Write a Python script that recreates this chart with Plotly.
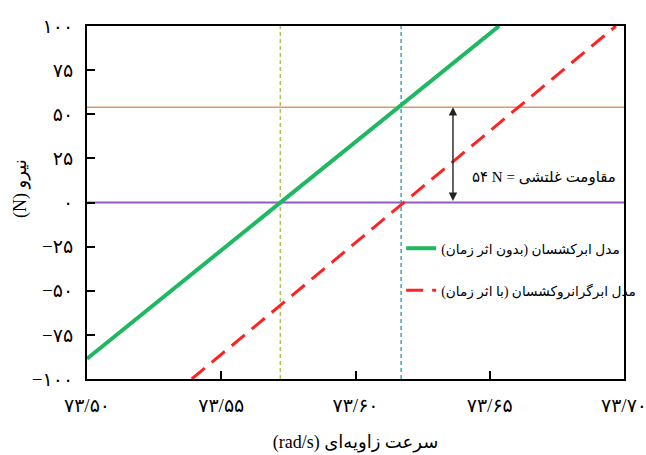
import plotly.graph_objects as go

# ---- data ----
x_ticks = [73.50, 73.55, 73.60, 73.65, 73.70]
x_tick_labels = ["۷۳/۵۰", "۷۳/۵۵", "۷۳/۶۰", "۷۳/۶۵", "۷۳/۷۰"]
y_ticks = [-100, -75, -50, -25, 0, 25, 50, 75, 100]
y_tick_labels = ["−۱۰۰", "−۷۵", "−۵۰", "−۲۵", "۰", "۲۵", "۵۰", "۷۵", "۱۰۰"]

hyper_x = [73.50, 73.6535]
hyper_y = [-88.5, 100]
visco_x = [73.539, 73.697]
visco_y = [-100, 100]

resistance_level = 54
zero_level = 0
omega_hyper = 73.572
omega_visco = 73.617
arrow_x = 73.6363

name_hyper = "مدل ابرکشسان (بدون اثر زمان)"
name_visco = "مدل ابرگرانروکشسان (با اثر زمان)"
label_resist = "۵۴ N = مقاومت غلتشی"
x_title = "(rad/s) سرعت زاویه‌ای"
y_title = "(N) نیرو"

FONT = "Liberation Serif, DejaVu Sans, Noto Sans"

fig = go.Figure()

# horizontal reference lines
fig.add_trace(go.Scatter(x=[x_ticks[0], x_ticks[-1]], y=[resistance_level] * 2, mode="lines",
                         line=dict(color="#d99a66", width=1.6), showlegend=False, hoverinfo="skip"))
fig.add_trace(go.Scatter(x=[x_ticks[0], x_ticks[-1]], y=[zero_level] * 2, mode="lines",
                         line=dict(color="#9159c9", width=1.8), showlegend=False, hoverinfo="skip"))
# vertical reference lines
fig.add_trace(go.Scatter(x=[omega_hyper] * 2, y=[y_ticks[0], y_ticks[-1]], mode="lines",
                         line=dict(color="#b3c05a", width=1.5, dash="4px,3px"), showlegend=False, hoverinfo="skip"))
fig.add_trace(go.Scatter(x=[omega_visco] * 2, y=[y_ticks[0], y_ticks[-1]], mode="lines",
                         line=dict(color="#3fa6b8", width=1.5, dash="4px,3px"), showlegend=False, hoverinfo="skip"))

# model lines
fig.add_trace(go.Scatter(x=hyper_x, y=hyper_y, mode="lines", name=name_hyper, legendgroup="a",
                         line=dict(color="#1fb862", width=4)))
fig.add_trace(go.Scatter(x=visco_x, y=visco_y, mode="lines", name=name_visco, legendgroup="b",
                         line=dict(color="#ff2222", width=3, dash="17px,9px")))

# double arrow
fig.add_annotation(x=arrow_x, y=resistance_level, ax=arrow_x, ay=zero_level, axref="x", ayref="y",
                   xref="x", yref="y", text="", showarrow=True, arrowside="end+start",
                   arrowhead=2, arrowsize=1.2, arrowwidth=1.4, arrowcolor="#222222")
fig.add_annotation(x=73.6702, y=14.3, xref="x", yref="y", text=label_resist, showarrow=False,
                   font=dict(family=FONT, size=15, color="black"), xanchor="center", yanchor="middle")
# y-axis title
fig.add_annotation(x=-0.125, y=0.541, xref="paper", yref="paper", text=y_title, showarrow=False,
                   textangle=-90, font=dict(family=FONT, size=18, color="black"),
                   xanchor="center", yanchor="middle")

fig.update_xaxes(range=[x_ticks[0], x_ticks[-1]], tickvals=x_ticks, ticktext=x_tick_labels,
                 ticks="inside", ticklen=8, tickwidth=1.5, tickcolor="black",
                 showline=True, linewidth=2, linecolor="black", mirror=True,
                 showgrid=False, zeroline=False, automargin=False, ticklabelstandoff=8,
                 ticklabeloverflow="allow",
                 tickfont=dict(family=FONT, size=19, color="black"),
                 title=dict(text=x_title, font=dict(family=FONT, size=18, color="black"), standoff=21))
fig.update_yaxes(range=[y_ticks[0], y_ticks[-1]], tickvals=y_ticks, ticktext=y_tick_labels,
                 ticks="inside", ticklen=8, tickwidth=1.5, tickcolor="black",
                 showline=True, linewidth=2, linecolor="black", mirror=True,
                 showgrid=False, zeroline=False, automargin=False, ticklabelstandoff=8,
                 ticklabeloverflow="allow",
                 tickfont=dict(family=FONT, size=19, color="black"))

fig.update_layout(
    width=646, height=455,
    margin=dict(l=87, r=22, t=26, b=76, autoexpand=False),
    plot_bgcolor="white", paper_bgcolor="white",
    showlegend=True,
    legend=dict(x=0.621, y=0.488, xref="container", yref="container",
                xanchor="left", yanchor="top", bgcolor="rgba(0,0,0,0)",
                font=dict(family=FONT, size=13.7, color="black"), tracegroupgap=21,
                traceorder="grouped"),
)

fig.write_html("out.html")
